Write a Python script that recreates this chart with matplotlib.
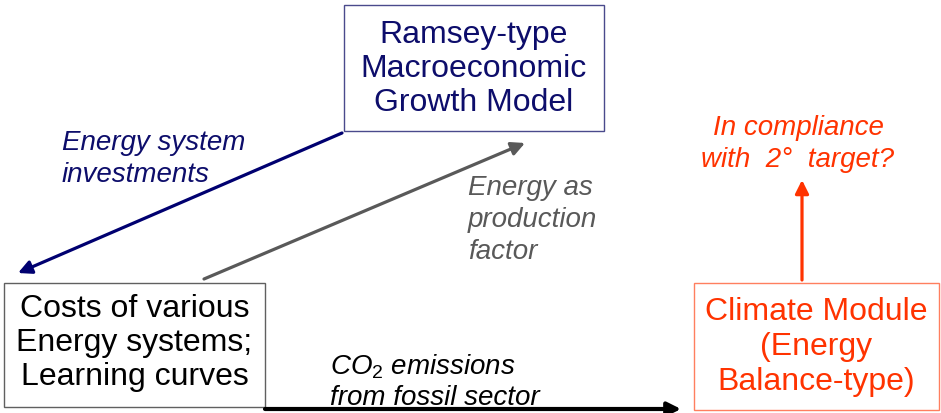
import matplotlib
matplotlib.use('Agg')
import matplotlib.pyplot as plt
from matplotlib.patches import Rectangle

plt.rcParams['font.family'] = ['Liberation Sans', 'DejaVu Sans']
plt.rcParams['mathtext.fontset'] = 'custom'
plt.rcParams['mathtext.it'] = 'Liberation Sans:italic'
plt.rcParams['mathtext.rm'] = 'Liberation Sans'
plt.rcParams['mathtext.default'] = 'it'

# box texts
ramsey_lines = ['Ramsey-type', 'Macroeconomic', 'Growth Model']
costs_lines = ['Costs of various', 'Energy systems;', 'Learning curves']
climate_lines = ['Climate Module', '(Energy', 'Balance-type)']

# arrow labels
invest_label = 'Energy system\ninvestments'
factor_label = 'Energy as\nproduction\nfactor'
co2_label = '$CO_2$ emissions\nfrom fossil sector'
target_label = 'In compliance\nwith  2°  target?'

NAVY = '#0d0d6b'
GRAY = '#595959'
RED = '#ff3300'

W, H = 941, 413
fig = plt.figure(figsize=(W / 100, H / 100), dpi=100)
ax = fig.add_axes([0, 0, 1, 1])
ax.set_xlim(0, W)
ax.set_ylim(H, 0)
ax.axis('off')


def box(x0, y0, x1, y1, lines, edge, color, ty, ls, lw=1.0):
    ax.add_patch(Rectangle((x0, y0), x1 - x0, y1 - y0, fill=False,
                           edgecolor=edge, linewidth=lw))
    ax.text((x0 + x1) / 2, ty, '\n'.join(lines), ha='center',
            va='center', multialignment='center', fontsize=23,
            color=color, linespacing=ls)


box(344, 5, 604, 131, ramsey_lines, '#4a4a8c', NAVY, 69, 1.19)
box(4, 283, 265, 407, costs_lines, '#606060', 'black', 343, 1.17)
box(694, 283, 939, 410, climate_lines, '#ff7f5f', RED, 347, 1.22)


def arrow(p0, p1, color, lw):
    ax.annotate('', xy=p1, xytext=p0,
                arrowprops=dict(arrowstyle='-|>', color=color, lw=lw,
                                mutation_scale=20, shrinkA=0, shrinkB=0))


arrow((342, 133), (18, 273), '#000070', 2.3)
arrow((204, 279), (525, 143), GRAY, 2.3)
arrow((265, 409), (681, 409), 'black', 3.0)
arrow((802, 280), (802, 180), RED, 2.3)

lab = dict(fontsize=20, style='italic', va='center')
ax.text(62, 159, invest_label, ha='left', color=NAVY, linespacing=1.28, **lab)
ax.text(468, 220, factor_label, ha='left', color=GRAY, linespacing=1.28,
        **lab)
ax.text(330, 382, co2_label, ha='left', color='black', linespacing=1.2,
        **lab)
ax.text(798, 144, target_label, ha='center', multialignment='center',
        color=RED, linespacing=1.28, **lab)

fig.savefig('out.png', dpi=100)
